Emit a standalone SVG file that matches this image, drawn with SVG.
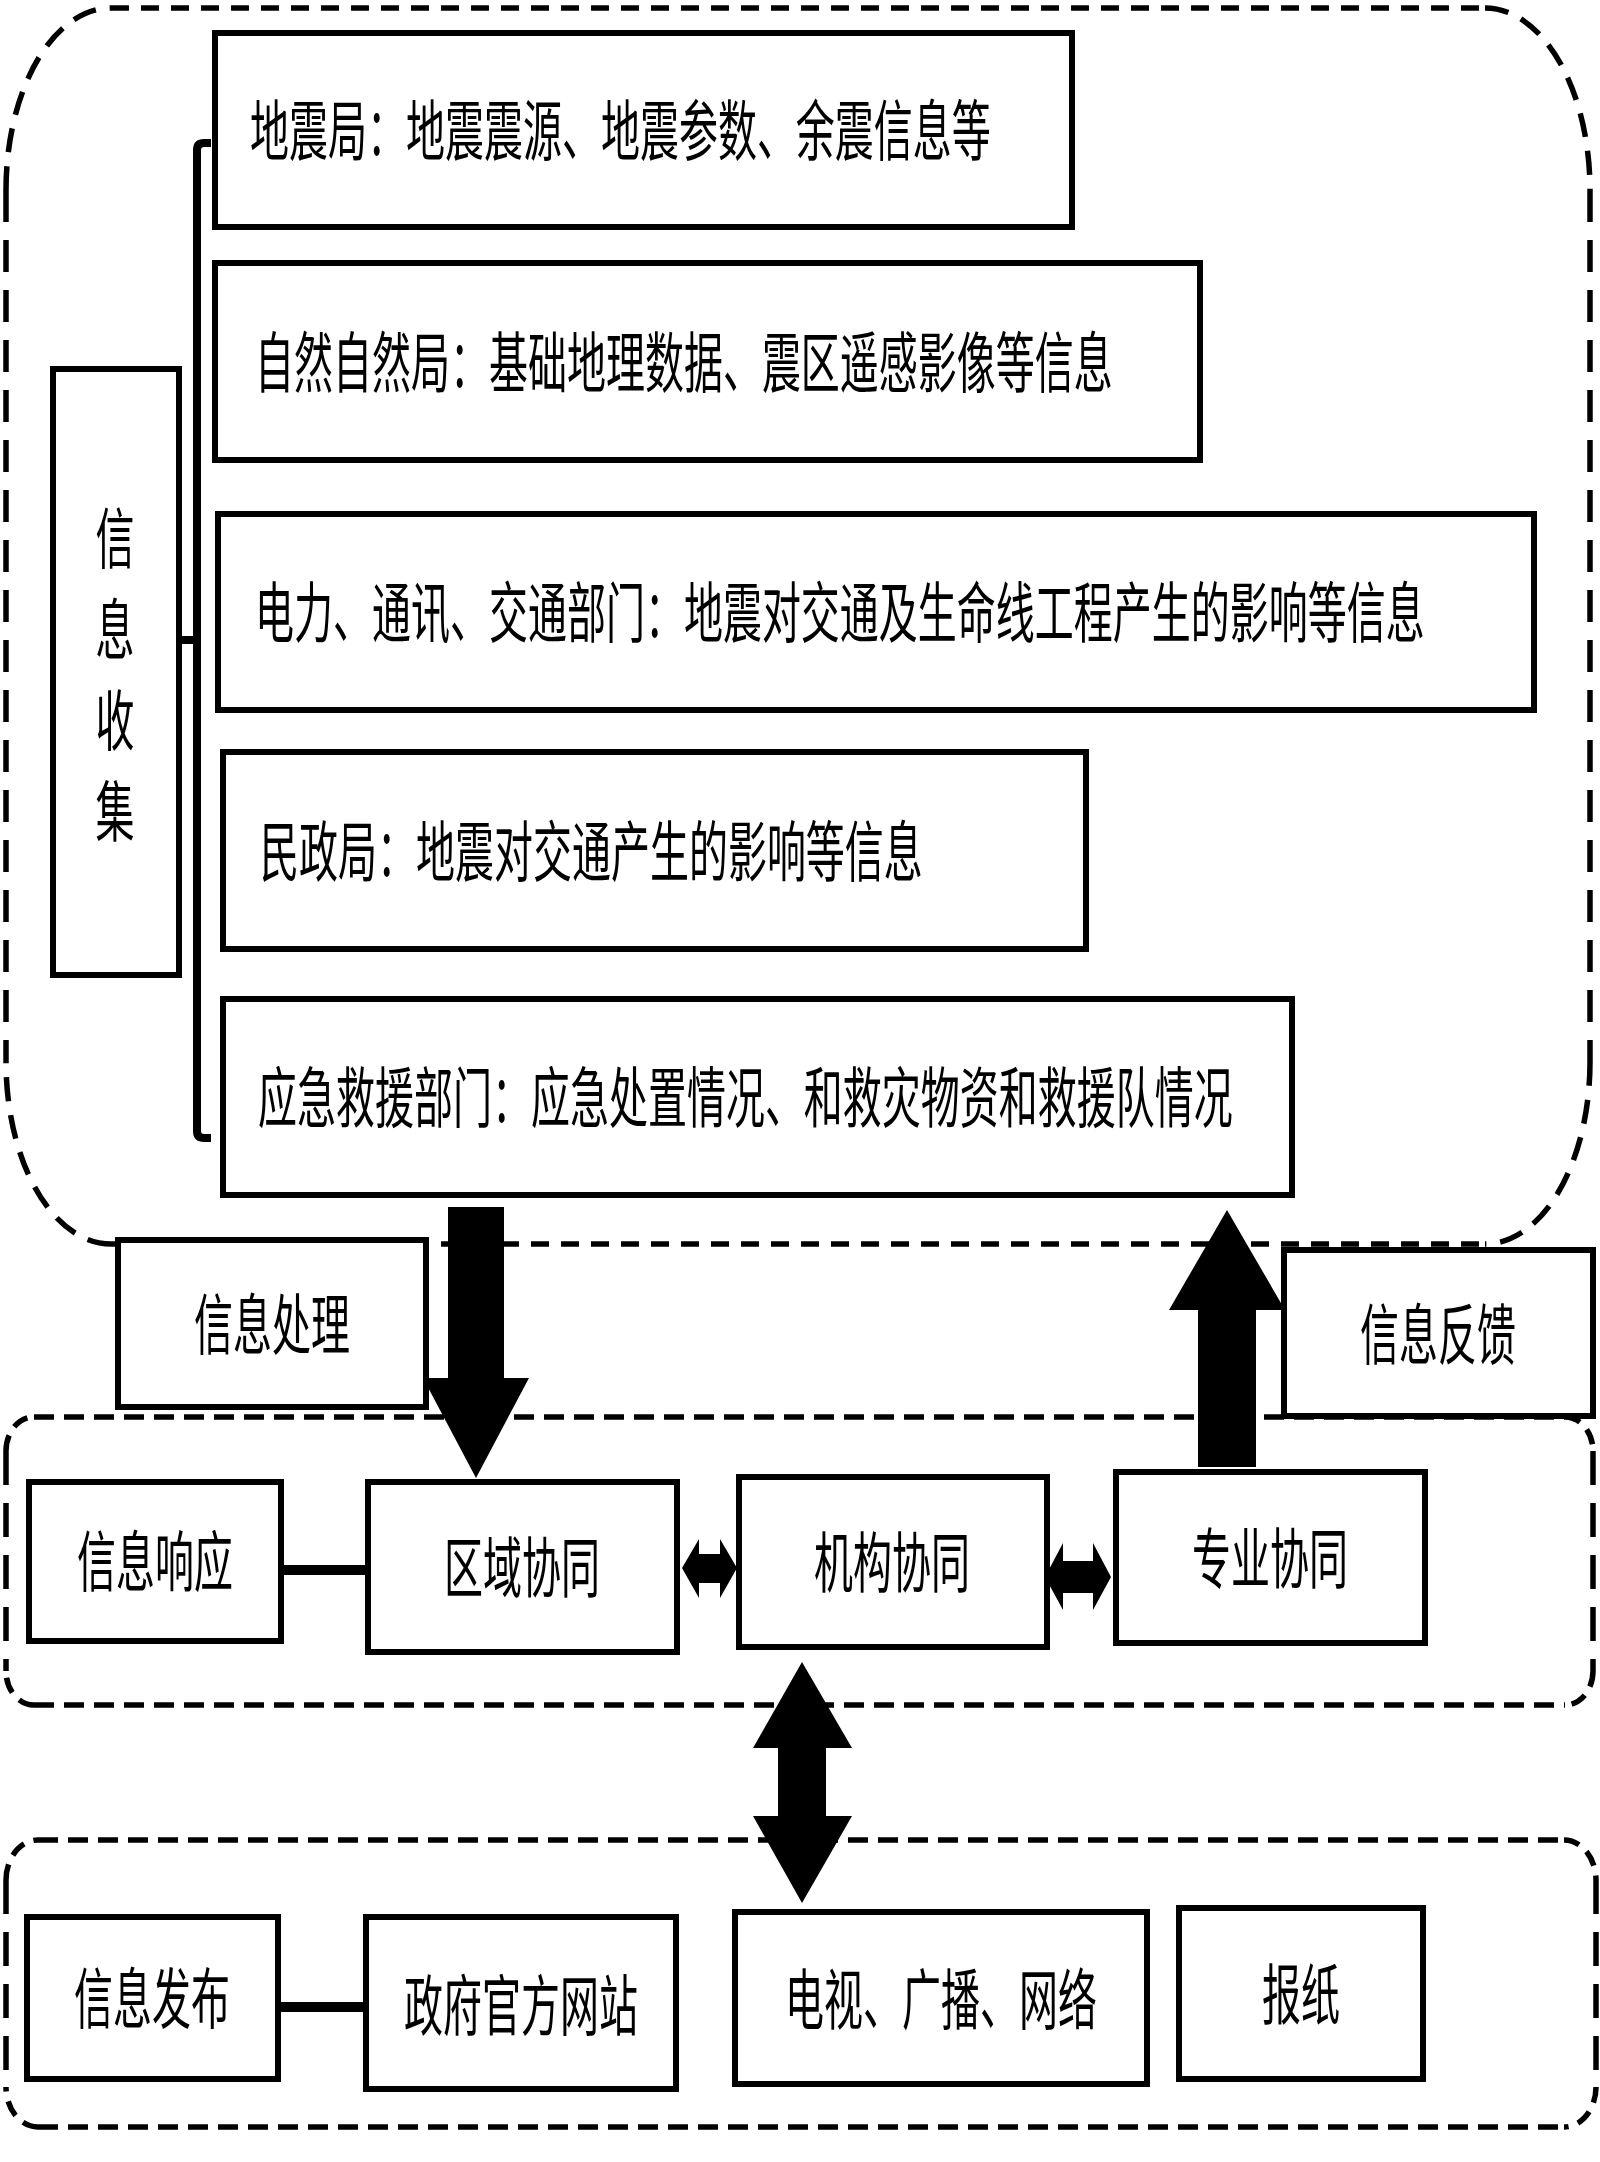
<svg xmlns="http://www.w3.org/2000/svg" width="1600" height="2162" viewBox="0 0 1600 2162">
<style>
.bg{fill:#fff}
.box{fill:#fff;stroke:#000;stroke-width:6}
.t{font-family:"Noto Sans CJK SC","Noto Sans CJK JP",sans-serif;font-size:39px;fill:#000}
.m{text-anchor:middle}
.dsh{fill:none;stroke:#000;stroke-width:5.5}
.h1{stroke-dasharray:18 12}
.v1{stroke-dasharray:32 18}
.c1{stroke-dasharray:24 14}
.h2{stroke-dasharray:20 10}
.v2{stroke-dasharray:34 18}
.c2{stroke-dasharray:16 10}
.ln{fill:none;stroke:#000;stroke-width:8}
.thick{fill:none;stroke:#000;stroke-width:10}
.arr{fill:#000}
</style>
<rect class="bg" x="0" y="0" width="1600" height="2162"/>
<g id="regions">
  <g id="region-collect">
    <path class="dsh h1" d="M111,8 H1485"/>
    <path class="dsh h1" d="M111,1244 H1485"/>
    <path class="dsh v1" d="M6,190 V1062"/>
    <path class="dsh v1" d="M1590,190 V1062"/>
    <path class="dsh c1" d="M6,190 A105,182 0 0 1 111,8"/>
    <path class="dsh c1" d="M1485,8 A105,182 0 0 1 1590,190"/>
    <path class="dsh c1" d="M1590,1062 A105,182 0 0 1 1485,1244"/>
    <path class="dsh c1" d="M111,1244 A105,182 0 0 1 6,1062"/>
  </g>
  <g id="region-response">
    <path class="dsh h2" d="M34,1417 H1565"/>
    <path class="dsh h2" d="M34,1705 H1565"/>
    <path class="dsh v2" d="M6,1451 V1671"/>
    <path class="dsh v2" d="M1593,1451 V1671"/>
    <path class="dsh c2" d="M6,1451 A28,34 0 0 1 34,1417"/>
    <path class="dsh c2" d="M1565,1417 A28,34 0 0 1 1593,1451"/>
    <path class="dsh c2" d="M1593,1671 A28,34 0 0 1 1565,1705"/>
    <path class="dsh c2" d="M34,1705 A28,34 0 0 1 6,1671"/>
  </g>
  <g id="region-publish">
    <path class="dsh h2" d="M38,1840 H1564"/>
    <path class="dsh h2" d="M38,2127 H1564"/>
    <path class="dsh v2" d="M6,1880 V2087"/>
    <path class="dsh v2" d="M1596,1880 V2087"/>
    <path class="dsh c2" d="M6,1880 A32,40 0 0 1 38,1840"/>
    <path class="dsh c2" d="M1564,1840 A32,40 0 0 1 1596,1880"/>
    <path class="dsh c2" d="M1596,2087 A32,40 0 0 1 1564,2127"/>
    <path class="dsh c2" d="M38,2127 A32,40 0 0 1 6,2087"/>
  </g>
</g>
<g id="node-collect">
  <rect class="box" x="53" y="369" width="126" height="606"/>
  <text class="t m" transform="translate(115,563) scale(1,1.69)">信</text>
  <text class="t m" transform="translate(115,654) scale(1,1.69)">息</text>
  <text class="t m" transform="translate(115,745) scale(1,1.69)">收</text>
  <text class="t m" transform="translate(115,836) scale(1,1.69)">集</text>
</g>
<g id="node-seismic">
  <rect class="box" x="215" y="33" width="857" height="194"/>
  <text class="t" transform="translate(250,155) scale(1,1.69)">地震局：地震震源、地震参数、余震信息等</text>
</g>
<g id="node-nature">
  <rect class="box" x="215" y="263" width="985" height="197"/>
  <text class="t" transform="translate(255,387) scale(1,1.69)">自然自然局：基础地理数据、震区遥感影像等信息</text>
</g>
<g id="node-power">
  <rect class="box" x="218" y="514" width="1316" height="196"/>
  <text class="t" transform="translate(255,637) scale(1,1.69)">电力、通讯、交通部门：地震对交通及生命线工程产生的影响等信息</text>
</g>
<g id="node-civil">
  <rect class="box" x="223" y="752" width="863" height="197"/>
  <text class="t" transform="translate(260,876) scale(1,1.69)">民政局：地震对交通产生的影响等信息</text>
</g>
<g id="node-rescue">
  <rect class="box" x="223" y="999" width="1069" height="196"/>
  <text class="t" transform="translate(258,1122) scale(1,1.69)">应急救援部门：应急处置情况、和救灾物资和救援队情况</text>
</g>
<g id="node-process">
  <rect class="box" x="118" y="1240" width="308" height="167"/>
  <text class="t m" transform="translate(272,1349) scale(1,1.69)">信息处理</text>
</g>
<g id="node-feedback">
  <rect class="box" x="1284" y="1250" width="309" height="166"/>
  <text class="t m" transform="translate(1438,1359) scale(1,1.69)">信息反馈</text>
</g>
<g id="node-response">
  <rect class="box" x="29" y="1482" width="252" height="159"/>
  <text class="t m" transform="translate(155,1586) scale(1,1.69)">信息响应</text>
</g>
<g id="node-regional">
  <rect class="box" x="368" y="1482" width="309" height="170"/>
  <text class="t m" transform="translate(522,1592) scale(1,1.69)">区域协同</text>
</g>
<g id="node-agency">
  <rect class="box" x="739" y="1477" width="308" height="170"/>
  <text class="t m" transform="translate(892,1587) scale(1,1.69)">机构协同</text>
</g>
<g id="node-professional">
  <rect class="box" x="1116" y="1472" width="309" height="171"/>
  <text class="t m" transform="translate(1270,1583) scale(1,1.69)">专业协同</text>
</g>
<g id="node-publish">
  <rect class="box" x="27" y="1917" width="251" height="162"/>
  <text class="t m" transform="translate(152,2023) scale(1,1.69)">信息发布</text>
</g>
<g id="node-website">
  <rect class="box" x="366" y="1917" width="310" height="172"/>
  <text class="t m" transform="translate(521,2030) scale(1,1.69)">政府官方网站</text>
</g>
<g id="node-tv">
  <rect class="box" x="735" y="1912" width="412" height="172"/>
  <text class="t m" transform="translate(941,2024) scale(1,1.69)">电视、广播、网络</text>
</g>
<g id="node-newspaper">
  <rect class="box" x="1179" y="1908" width="244" height="171"/>
  <text class="t m" transform="translate(1301,2019) scale(1,1.69)">报纸</text>
</g>
<g id="connectors">
  <path class="ln" d="M211,143 H204 Q197,143 197,150 V1131 Q197,1138 204,1138 H211"/>
  <path class="ln" d="M179,640 H197"/>
  <path class="thick" d="M281,1570 H368"/>
  <path class="thick" d="M278,2007 H366"/>
  <polygon class="arr" points="448,1207 504,1207 504,1378 529,1378 476,1478 423,1378 448,1378"/>
  <polygon class="arr" points="1227,1210 1285,1310 1256,1310 1256,1467 1198,1467 1198,1310 1169,1310"/>
  <polygon class="arr" points="682,1568 699,1539 699,1554 720,1554 720,1539 737,1568 720,1598 720,1583 699,1583 699,1598"/>
  <polygon class="arr" points="1045,1577 1063,1543 1063,1561 1093,1561 1093,1543 1111,1577 1093,1610 1093,1593 1063,1593 1063,1610"/>
  <polygon class="arr" points="802,1662 852,1748 826,1748 826,1816 852,1816 802,1903 753,1816 778,1816 778,1748 753,1748"/>
</g>
</svg>
